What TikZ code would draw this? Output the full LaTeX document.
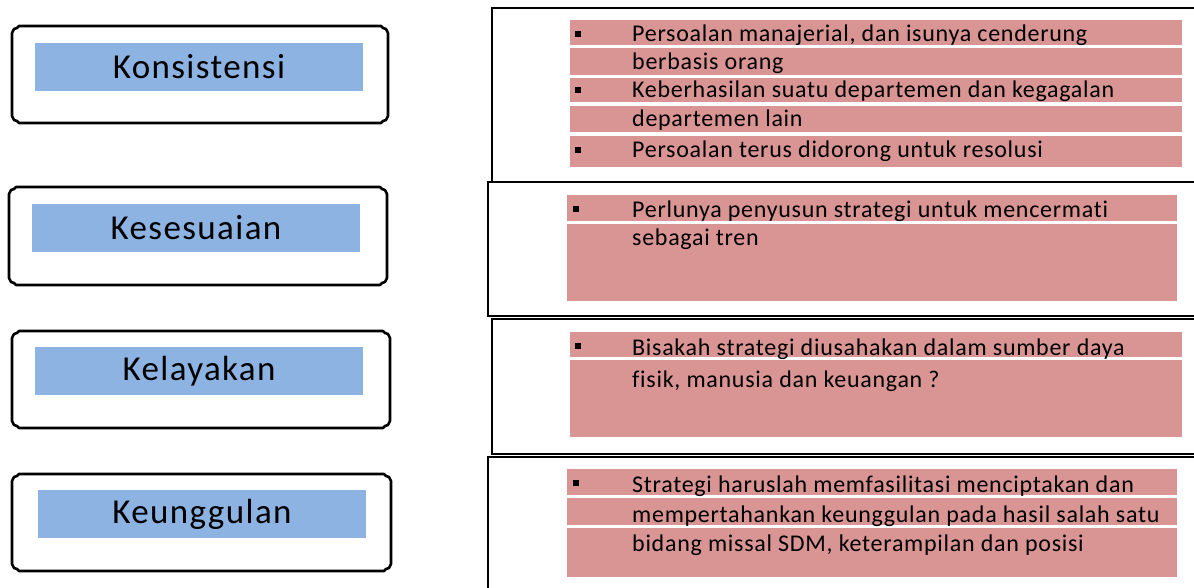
\documentclass[tikz,border=0pt]{standalone}
\usepackage{fontspec}
\setmainfont[Ligatures=CommonOff]{Carlito}
\definecolor{pinkband}{HTML}{D99594}
\definecolor{blueband}{HTML}{8DB3E2}
\newcommand\bevelframe[4]{\draw[frame] (#1+7,#2) -- (#3-7,#2) -- (#3-5,#2+2) -- (#3-2,#2+3) -- (#3,#2+7) -- (#3,#4-7) -- (#3-2,#4-3) -- (#3-5,#4-2) -- (#3-7,#4) -- (#1+7,#4) -- (#1+5,#4-2) -- (#1+2,#4-3) -- (#1,#4-7) -- (#1,#2+7) -- (#1+2,#2+3) -- (#1+5,#2+2) -- cycle;}
\tikzset{
  frame/.style={draw=black, line width=2.6pt, line join=round},
  panel/.style={draw=black, line width=2.8pt},
  labelbox/.style={fill=blueband, inner sep=0pt, minimum width=328pt, minimum height=48pt, font=\fontsize{35}{40}\selectfont\addfontfeature{LetterSpace=4}},
  band/.style={fill=pinkband},
  itemtext/.style={anchor=west, inner sep=0pt, text height=16pt, text depth=5pt, font=\fontsize{24}{28}\selectfont\addfontfeature{LetterSpace=3}},
  bulletsq/.style={fill=black, inner sep=0pt, minimum size=6pt}
}
\begin{document}
\begin{tikzpicture}[x=1pt,y=-1pt]
\useasboundingbox (0,0) rectangle (1194,587);
% left frames
\bevelframe{12}{26}{388}{123}
\bevelframe{9}{187}{387}{285}
\bevelframe{12}{331}{390}{428}
\bevelframe{12}{474}{391}{571}
\node[labelbox] (k1) at (199,67) {Konsistensi};
\node[labelbox] (k2) at (196,228) {Kesesuaian};
\node[labelbox] (k3) at (199,371) {Kelayakan};
\node[labelbox] (k4) at (202,514) {Keunggulan};
% right panels
\draw[panel] (492,8) rectangle (1210,182);
\draw[panel] (488,182) rectangle (1210,316);
\draw[panel] (492,319) rectangle (1210,454);
\draw[panel] (488,457) rectangle (1210,600);
% panel 1 bands
\fill[band] (570,20) rectangle (1182,45);
\fill[band] (570,48) rectangle (1182,75);
\fill[band] (570,78) rectangle (1182,102);
\fill[band] (570,106) rectangle (1182,132);
\fill[band] (570,136) rectangle (1182,167);
\node[bulletsq] (b1) at (578,34) {};
\node[bulletsq] (b2) at (578,90) {};
\node[bulletsq] (b3) at (578,150) {};
\node[itemtext] (t11) at (632,36) {Persoalan manajerial, dan isunya cenderung};
\node[itemtext] (t12) at (632,64) {berbasis orang};
\node[itemtext] (t13) at (632,92) {Keberhasilan suatu departemen dan kegagalan};
\node[itemtext] (t14) at (632,121) {departemen lain};
\node[itemtext] (t15) at (632,152) {Persoalan terus didorong untuk resolusi};
% panel 2 bands
\fill[band] (567,195) rectangle (1177,221);
\fill[band] (567,224) rectangle (1177,301);
\node[bulletsq] (b4) at (576,209) {};
\node[itemtext] (t21) at (632,212) {Perlunya penyusun strategi untuk mencermati};
\node[itemtext] (t22) at (632,240) {sebagai tren};
% panel 3 bands
\fill[band] (570,332) rectangle (1182,357);
\fill[band] (570,360) rectangle (1182,437);
\node[bulletsq] (b5) at (578,346) {};
\node[itemtext] (t31) at (632,350) {Bisakah strategi diusahakan dalam sumber daya};
\node[itemtext] (t32) at (632,382) {fisik, manusia dan keuangan ?};
% panel 4 bands
\fill[band] (567,469) rectangle (1177,495);
\fill[band] (567,498) rectangle (1177,525);
\fill[band] (567,528) rectangle (1177,577);
\node[bulletsq] (b6) at (576,483) {};
\node[itemtext] (t41) at (632,487) {Strategi haruslah memfasilitasi menciptakan dan};
\node[itemtext] (t42) at (632,517) {mempertahankan keunggulan pada hasil salah satu};
\node[itemtext] (t43) at (632,546) {bidang missal SDM, keterampilan dan posisi};
\end{tikzpicture}
\end{document}
